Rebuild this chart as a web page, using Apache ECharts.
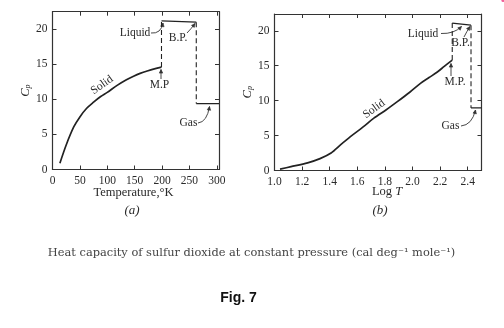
<!DOCTYPE html>
<html>
<head>
<meta charset="utf-8">
<script src="https://cdn.jsdelivr.net/npm/echarts@6/dist/echarts.min.js"></script>
<style>
  html, body { margin: 0; padding: 0; background: #fff; }
  #chart { width: 504px; height: 328px; }
</style>
</head>
<body>
<div id="chart"></div>
<script>
// ---- (a) heat capacity against temperature ----
const solidTempA = [13.5, 25, 39, 50, 62, 75, 88, 100, 118, 135, 148, 160, 173, 186, 199];
const solidCpA   = [0.9, 3.5, 6.1, 7.5, 8.7, 9.6, 10.4, 11.0, 12.0, 12.8, 13.3, 13.7, 14.05, 14.35, 14.6];
const liquidTempA = [199, 262.5];
const liquidCpA   = [21.2, 21.0];
const gasTempA = [262.5, 304];
const gasCpA   = [9.4, 9.4];
const tempTicks = [0, 50, 100, 150, 200, 250, 300];

// ---- (b) heat capacity against log T ----
const solidLogT = [1.04, 1.12, 1.24, 1.33, 1.41, 1.48, 1.55, 1.64, 1.72, 1.81, 1.89, 1.98, 2.06, 2.12, 2.18, 2.23, 2.288];
const solidCpB  = [0.2, 0.55, 1.1, 1.7, 2.5, 3.7, 4.85, 6.2, 7.5, 8.7, 9.85, 11.2, 12.5, 13.3, 14.1, 14.9, 15.8];
const liquidLogT = [2.288, 2.424];
const liquidCpB  = [21.1, 20.8];
const gasLogT = [2.424, 2.5];
const gasCpB  = [8.95, 8.95];
const logTicks = ['1.0', '1.2', '1.4', '1.6', '1.8', '2.0', '2.2', '2.4'];
const cpTicks = [0, 5, 10, 15, 20];

const SERIF = '"Liberation Serif", "DejaVu Serif", serif';
const WIDE_SERIF = '"DejaVu Serif", "Liberation Serif", serif';
const INK = '#222';
const TXT = '#2a2a2a';

const zip = (xs, ys) => xs.map((x, i) => [x, ys[i]]);

const chart = echarts.init(document.getElementById('chart'), null, { renderer: 'canvas' });

function xAx(grid, pos, min, max, interval, labels, fmt) {
  return {
    type: 'value', gridIndex: grid, position: pos, min, max, interval,
    axisLine: { show: true, onZero: false, lineStyle: { color: '#333', width: 1.2 } },
    axisTick: { show: true, inside: true, length: 4, lineStyle: { color: '#333', width: 1 } },
    axisLabel: {
      show: labels, margin: 5, fontSize: 11.5, fontFamily: SERIF, color: TXT,
      showMaxLabel: false, formatter: fmt
    },
    splitLine: { show: false }
  };
}
function yAx(grid, pos, min, max, labels) {
  return {
    type: 'value', gridIndex: grid, position: pos, min, max, interval: 5,
    axisLine: { show: true, onZero: false, lineStyle: { color: '#333', width: 1.2 } },
    axisTick: { show: true, inside: true, length: 4, lineStyle: { color: '#333', width: 1 } },
    axisLabel: {
      show: labels, margin: 5, fontSize: 11.5, fontFamily: SERIF, color: TXT,
      showMaxLabel: false,
      formatter: v => (cpTicks.indexOf(v) >= 0 ? String(v) : '')
    },
    splitLine: { show: false },
    name: labels ? '{c|C}{p|p}' : '',
    nameLocation: 'middle', nameRotate: 90, nameGap: 19,
    nameTextStyle: {
      rich: {
        c: { fontFamily: SERIF, fontStyle: 'italic', fontSize: 12.5, color: TXT },
        p: { fontFamily: SERIF, fontStyle: 'italic', fontSize: 8, color: TXT, padding: [5, 0, 0, 0] }
      }
    }
  };
}

const solidLine = { color: INK, width: 1.7 };
const dashLine = { color: INK, width: 1.1, type: [5, 3] };
function line(xi, data, style) {
  return { type: 'line', xAxisIndex: xi, yAxisIndex: xi, data, symbol: 'none',
           smooth: false, lineStyle: style, silent: true, animation: false };
}

// quadratic arrow with a small filled head
function arrow(x1, y1, cx, cy, x2, y2) {
  const ang = Math.atan2(y2 - cy, x2 - cx);
  const L = 4, W = 0.45;
  const h1 = [x2 - L * Math.cos(ang - W), y2 - L * Math.sin(ang - W)];
  const h2 = [x2 - L * Math.cos(ang + W), y2 - L * Math.sin(ang + W)];
  return [
    { type: 'bezierCurve', shape: { x1, y1, x2, y2, cpx1: cx, cpy1: cy },
      style: { stroke: '#333', lineWidth: 0.9, fill: null }, silent: true },
    { type: 'polygon', shape: { points: [h1, [x2, y2], h2] },
      style: { fill: '#333', stroke: '#333', lineWidth: 0.6 }, silent: true }
  ];
}
function label(text, x, y, opts) {
  return Object.assign({ type: 'text', x, y, silent: true,
    style: Object.assign({ text, font: '11.5px ' + SERIF, fill: TXT,
      textAlign: 'center', textVerticalAlign: 'middle' }, (opts || {}).style) },
    opts && opts.rotation !== undefined ? { rotation: opts.rotation } : {});
}

const graphics = [
  // (a) annotations
  label('Liquid', 135, 33),
  ...arrow(151, 33, 161, 34, 163, 23),
  label('B.P.', 178, 38),
  ...arrow(187, 33, 191, 29, 195, 23.5),
  label('M.P', 159.5, 85),
  ...arrow(161, 79, 161, 74, 161, 69.5),
  label('Solid', 102, 85, { rotation: 35 * Math.PI / 180 }),
  label('Gas', 188.5, 123),
  ...arrow(198, 123, 207, 122, 209.5, 106.5),
  // (b) annotations
  label('Liquid', 423, 34),
  ...arrow(441, 33.5, 454, 34, 461.5, 26.5),
  label('B.P.', 460.5, 43),
  ...arrow(464, 37, 467, 31, 470, 26.5),
  label('M.P.', 455, 81.5),
  ...arrow(451, 76, 451, 70, 451, 63.5),
  label('Solid', 374, 109, { rotation: 36 * Math.PI / 180 }),
  label('Gas', 450.5, 126),
  ...arrow(461, 126, 472, 125, 475.5, 110),
  // axis titles and panel tags
  label('Temperature,°K', 133.5, 193, { style: { font: '12.5px ' + SERIF } }),
  { type: 'text', x: 387, y: 192, silent: true,
    style: { text: '{r|Log }{i|T}', textAlign: 'center', textVerticalAlign: 'middle',
      rich: { r: { font: '12.5px ' + SERIF, fill: TXT }, i: { font: 'italic 12.5px ' + SERIF, fill: TXT } } } },
  label('(a)', 132, 211, { style: { font: 'italic 13px ' + SERIF } }),
  label('(b)', 380, 211, { style: { font: 'italic 13px ' + SERIF } }),
  // caption
  label('Heat capacity of sulfur dioxide at constant pressure (cal deg⁻¹ mole⁻¹)', 251.5, 253,
    { style: { font: '11.4px ' + WIDE_SERIF, fill: '#444' } }),
  label('Fig. 7', 238.5, 298, { style: { font: 'bold 14px "Liberation Sans", Arial, sans-serif', fill: '#111' } }),
  // small pink mark in the corner
  { type: 'circle', shape: { cx: 503, cy: 0.5, r: 1.6 }, style: { fill: '#f2609a' }, silent: true }
];

const option = {
  backgroundColor: '#fff',
  animation: false,
  grid: [
    { left: 52.5, top: 11.7, width: 166.5, height: 157.8 },
    { left: 274.5, top: 14, width: 207, height: 156.5 }
  ],
  xAxis: [
    xAx(0, 'bottom', 0, 304, 50, true, v => (tempTicks.indexOf(v) >= 0 ? String(v) : '')),
    xAx(0, 'top', 0, 304, 50, false),
    xAx(1, 'bottom', 1.0, 2.5, 0.2, true, v => {
      const s = v.toFixed(1);
      return logTicks.indexOf(s) >= 0 ? s : '';
    }),
    xAx(1, 'top', 1.0, 2.5, 0.2, false)
  ],
  yAxis: [
    yAx(0, 'left', 0, 22.5, true),
    yAx(0, 'right', 0, 22.5, false),
    yAx(1, 'left', 0, 22.4, true),
    yAx(1, 'right', 0, 22.4, false)
  ],
  series: [
    // (a)
    Object.assign(line(0, zip(solidTempA, solidCpA), solidLine), { smooth: 0.3 }),
    line(0, zip([solidTempA[solidTempA.length - 1], liquidTempA[0]], [solidCpA[solidCpA.length - 1], liquidCpA[0]]), dashLine),
    line(0, zip(liquidTempA, liquidCpA), { color: INK, width: 1.3 }),
    line(0, zip([liquidTempA[1], gasTempA[0]], [liquidCpA[1], gasCpA[0]]), dashLine),
    line(0, zip(gasTempA, gasCpA), { color: INK, width: 1.3 }),
    // (b)
    Object.assign(line(2, zip(solidLogT, solidCpB), solidLine), { smooth: 0.3 }),
    line(2, zip([solidLogT[solidLogT.length - 1], liquidLogT[0]], [solidCpB[solidCpB.length - 1], liquidCpB[0]]), dashLine),
    line(2, zip(liquidLogT, liquidCpB), { color: INK, width: 1.3 }),
    line(2, zip([liquidLogT[1], gasLogT[0]], [liquidCpB[1], gasCpB[0]]), dashLine),
    line(2, zip(gasLogT, gasCpB), { color: INK, width: 1.3 })
  ],
  graphic: graphics
};
chart.setOption(option);
</script>
</body>
</html>
